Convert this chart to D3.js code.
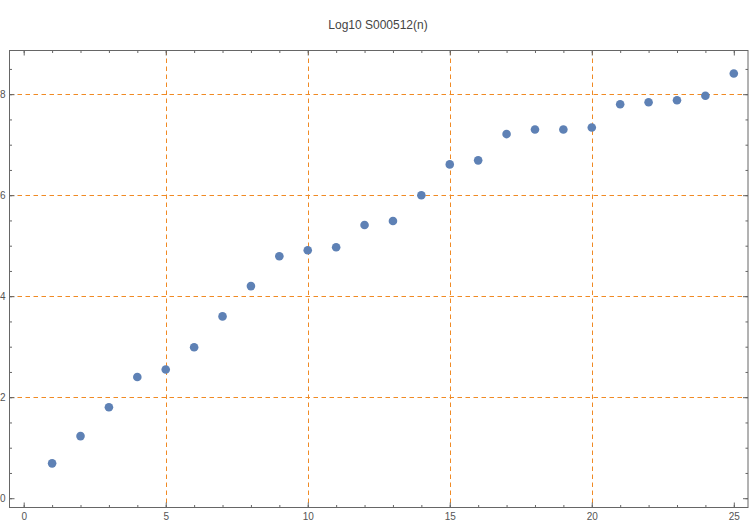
<!DOCTYPE html>
<html><head><meta charset="utf-8">
<script src="https://cdn.jsdelivr.net/npm/d3@7"></script>
<style>body{margin:0;background:#fff;} text{font-family:"Liberation Sans",Arial,sans-serif;}</style>
</head><body>
<svg id="c" width="750" height="525"></svg>
<script>
const nValues = [1,2,3,4,5,6,7,8,9,10,11,12,13,14,15,16,17,18,19,20,21,22,23,24,25];
const logValues = [0.69,1.23,1.80,2.40,2.55,2.99,3.60,4.20,4.79,4.91,4.97,5.41,5.49,6.00,6.61,6.69,7.21,7.30,7.30,7.34,7.80,7.84,7.88,7.97,8.41];
const xMajorTicks = [0,5,10,15,20,25];
const yMajorTicks = [0,2,4,6,8];
const xGrid = [5,10,15,20];
const yGrid = [2,4,6,8];
const title = "Log10 S000512(n)";

const svg = d3.select("#c");
const L = 9.5, R = 748, T = 50.5, B = 507.5;
const x = d3.scaleLinear().domain([-0.5, 25.5]).range([L, R]);
const y = d3.scaleLinear().domain([-0.184, 8.865]).range([B, T]);

const grid = svg.append("g");
grid.selectAll("line.vx").data(xGrid).join("line")
  .attr("x1", d => Math.round(x(d)) + 0.5).attr("x2", d => Math.round(x(d)) + 0.5)
  .attr("y1", T).attr("y2", B)
  .attr("stroke", "#f08a24").attr("stroke-width", 1).attr("stroke-dasharray", "4.5,3.5");
grid.selectAll("line.hy").data(yGrid).join("line")
  .attr("y1", d => Math.round(y(d)) + 0.5).attr("y2", d => Math.round(y(d)) + 0.5)
  .attr("x1", L).attr("x2", R)
  .attr("stroke", "#f08a24").attr("stroke-width", 1).attr("stroke-dasharray", "4.5,3.5");

const minorX = d3.range(0, 26, 1);
const minorY = d3.range(0, 8.51, 0.5);
function styleAxis(g) {
  g.select(".domain").remove();
  g.selectAll(".tick line").attr("stroke", "#666");
  g.selectAll(".tick text").attr("fill", "#555").attr("font-size", 10);
}
// bottom
svg.append("g").attr("transform", `translate(0,${B})`)
  .call(d3.axisBottom(x).tickValues(minorX).tickSize(-2.5).tickFormat("")).call(styleAxis);
svg.append("g").attr("transform", `translate(0,${B})`)
  .call(d3.axisBottom(x).tickValues(xMajorTicks).tickSize(-5).tickPadding(5).tickFormat(d3.format("d"))).call(styleAxis);
// top
svg.append("g").attr("transform", `translate(0,${T})`)
  .call(d3.axisTop(x).tickValues(minorX).tickSize(-2.5).tickFormat("")).call(styleAxis);
svg.append("g").attr("transform", `translate(0,${T})`)
  .call(d3.axisTop(x).tickValues(xMajorTicks).tickSize(-5).tickFormat("")).call(styleAxis);
// left
svg.append("g").attr("transform", `translate(${L},0)`)
  .call(d3.axisLeft(y).tickValues(minorY).tickSize(-2.5).tickFormat("")).call(styleAxis);
svg.append("g").attr("transform", `translate(${L},0)`)
  .call(d3.axisLeft(y).tickValues(yMajorTicks).tickSize(-5).tickPadding(4).tickFormat(d3.format("d"))).call(styleAxis);
// right
svg.append("g").attr("transform", `translate(${R},0)`)
  .call(d3.axisRight(y).tickValues(minorY).tickSize(-2.5).tickFormat("")).call(styleAxis);
svg.append("g").attr("transform", `translate(${R},0)`)
  .call(d3.axisRight(y).tickValues(yMajorTicks).tickSize(-5).tickFormat("")).call(styleAxis);

svg.append("rect").attr("x", L).attr("y", T).attr("width", R - L).attr("height", B - T)
  .attr("fill", "none").attr("stroke", "#666").attr("stroke-width", 1);

svg.append("g").selectAll("circle").data(nValues).join("circle")
  .attr("cx", (d) => x(d)).attr("cy", (d, i) => y(logValues[i]))
  .attr("r", 4.3).attr("fill", "#5e81b5");

svg.append("text").attr("x", 378).attr("y", 29).attr("text-anchor", "middle")
  .attr("font-size", 12).attr("fill", "#444").text(title);
</script>
</body></html>
